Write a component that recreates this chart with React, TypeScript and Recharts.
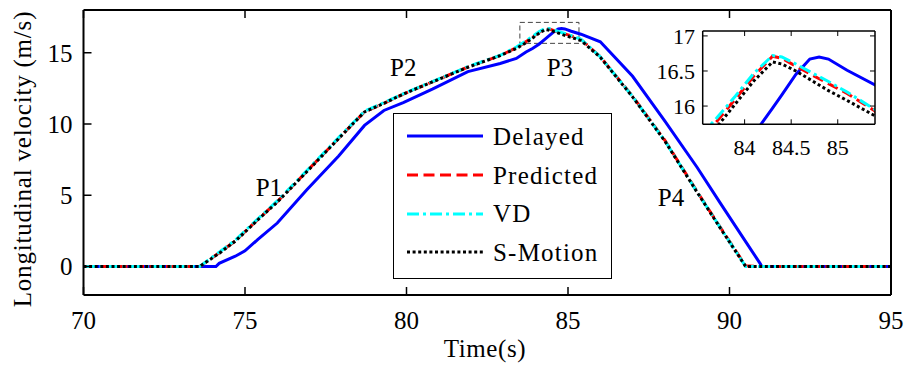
import React from 'react';
import {
  LineChart,
  Line,
  XAxis,
  YAxis,
  ReferenceArea,
  ReferenceDot,
  Legend,
  CartesianGrid,
  Label,
} from 'recharts';

// ---- data ----
const time = [70, 73.6, 74.1, 74.2, 74.7, 75, 75.4, 76, 76.9, 77.9, 78.7, 79.3, 79.9, 80.8, 81.9, 82.9, 83.4, 83.7, 83.9, 84.1, 84.3, 84.4, 84.55, 84.7, 84.8, 84.9, 85.1, 85.4, 86, 87, 88, 89, 89.7, 90.5, 90.95, 91, 95];
const delayed = [0, 0, 0, 0.22, 0.72, 1.1, 1.9, 3.05, 5.35, 7.75, 9.9, 10.95, 11.5, 12.45, 13.68, 14.25, 14.6, 15.05, 15.3, 15.6, 15.97, 16.16, 16.45, 16.67, 16.7, 16.67, 16.51, 16.3, 15.77, 13.35, 10.2, 6.95, 4.5, 1.75, 0.2, 0, 0];
const predicted = [0, 0, 0.8, 0.95, 1.8, 2.45, 3.3, 4.55, 6.65, 9.0, 10.85, 11.45, 12.1, 12.95, 14.0, 14.8, 15.35, 15.78, 16.1, 16.43, 16.71, 16.68, 16.57, 16.46, 16.39, 16.32, 16.18, 15.93, 14.72, 11.95, 8.85, 5.25, 2.8, 0.05, 0, 0, 0];
const vd = [0, 0, 0.85, 1.0, 1.85, 2.5, 3.35, 4.6, 6.7, 9.05, 10.9, 11.5, 12.12, 12.98, 14.02, 14.82, 15.4, 15.83, 16.14, 16.47, 16.72, 16.7, 16.6, 16.49, 16.42, 16.35, 16.2, 15.95, 14.72, 11.93, 8.82, 5.22, 2.78, 0, 0, 0, 0];
const sMotion = [0, 0, 0.78, 0.92, 1.78, 2.42, 3.28, 4.52, 6.62, 8.98, 10.85, 11.45, 12.1, 12.95, 13.98, 14.8, 15.3, 15.7, 16.03, 16.36, 16.63, 16.6, 16.5, 16.38, 16.3, 16.22, 16.08, 15.86, 14.68, 11.9, 8.8, 5.2, 2.75, 0, 0, 0, 0];

const seriesNames = ['Delayed', 'Predicted', 'VD', 'S-Motion'];
const xTicks = [70, 75, 80, 85, 90, 95];
const yTicks = [0, 5, 10, 15];
const insetXTicks = [84, 84.5, 85];
const insetYTicks = [16, 16.5, 17];
const annotationLabels = ['P1', 'P2', 'P3', 'P4'];
const annotationT = [75.74, 79.9, 84.75, 88.19];
const annotationV = [5.59, 14.0, 14.0, 4.88];
const zoomBoxT = [83.51, 85.34];
const zoomBoxV = [15.66, 17.13];

const data = time.map((t, i) => ({
  t,
  delayed: delayed[i],
  predicted: predicted[i],
  vd: vd[i],
  sMotion: sMotion[i],
}));

// ---- styles ----
const FONT = '"Liberation Serif", "Times New Roman", serif';
const seriesStyles = [
  { key: 'delayed', stroke: '#0000ff', dash: undefined as string | undefined },
  { key: 'predicted', stroke: '#ff0000', dash: '11 5.5' },
  { key: 'vd', stroke: '#00ffff', dash: '12 4 3 4' },
  { key: 'sMotion', stroke: '#000000', dash: '3 2.6' },
];

const LegendBox = () => (
  <div
    style={{
      width: 219,
      height: 166,
      border: '1.5px solid #000',
      background: '#fff',
      boxSizing: 'border-box',
      paddingTop: 3,
    }}
  >
    {seriesStyles.map((s, i) => (
      <div key={s.key} style={{ height: 38.7, display: 'flex', alignItems: 'center' }}>
        <svg width={90} height={10} style={{ display: 'block' }}>
          <line x1={13} x2={89} y1={5} y2={5} stroke={s.stroke} strokeWidth={3} strokeDasharray={s.dash} />
        </svg>
        <span style={{ marginLeft: 9, fontFamily: FONT, fontSize: 25, letterSpacing: 1.2, lineHeight: 1, color: '#000' }}>
          {seriesNames[i]}
        </span>
      </div>
    ))}
  </div>
);

const axisLine = { stroke: '#000', strokeWidth: 2 };
const tickLine = { stroke: '#000', strokeWidth: 1.5 };
const insetAxisLine = { stroke: '#000', strokeWidth: 1.5 };
const insetTickLine = { stroke: '#000', strokeWidth: 1 };
const emptyTick = () => <g />;

export default function App() {
  return (
    <div style={{ position: 'absolute', left: 0, top: 0, width: 906, height: 367, background: '#fff' }}>
      <LineChart width={906} height={367} data={data} margin={{ top: 8, right: 13, left: 13, bottom: 32 }}>
        <XAxis
          dataKey="t"
          type="number"
          domain={[70, 95]}
          ticks={xTicks}
          interval={0}
          height={40}
          axisLine={axisLine}
          tickLine={tickLine}
          tickSize={-8}
          tickMargin={24}
          tick={{ fontSize: 25, fontFamily: FONT, fill: '#000' }}
        >
          <Label
            content={() => (
              <text x={485} y={357} textAnchor="middle" fontFamily={FONT} fontSize={25} letterSpacing={0.6} fill="#000">
                Time(s)
              </text>
            )}
          />
        </XAxis>
        <XAxis
          xAxisId="top"
          orientation="top"
          dataKey="t"
          type="number"
          domain={[70, 95]}
          ticks={xTicks}
          interval={0}
          height={2}
          axisLine={axisLine}
          tickLine={tickLine}
          tickSize={-8}
          tick={emptyTick}
        />
        <YAxis
          type="number"
          domain={[-2, 18]}
          ticks={yTicks}
          interval={0}
          width={70.5}
          axisLine={axisLine}
          tickLine={tickLine}
          tickSize={-8}
          tickMargin={19}
          tick={{ fontSize: 25, fontFamily: FONT, fill: '#000' }}
        >
          <Label
            content={() => (
              <text
                x={22}
                y={159}
                transform="rotate(-90 22 159)"
                textAnchor="middle"
                dominantBaseline="central"
                fontFamily={FONT}
                fontSize={25}
                letterSpacing={0.8}
                fill="#000"
              >
                Longitudinal velocity (m/s)
              </text>
            )}
          />
        </YAxis>
        <YAxis
          yAxisId="right"
          orientation="right"
          type="number"
          domain={[-2, 18]}
          ticks={yTicks}
          interval={0}
          width={2}
          axisLine={axisLine}
          tickLine={tickLine}
          tickSize={-8}
          tick={emptyTick}
        />
        <ReferenceArea
          x1={zoomBoxT[0]}
          x2={zoomBoxT[1]}
          y1={zoomBoxV[0]}
          y2={zoomBoxV[1]}
          fill="none"
          fillOpacity={0}
          stroke="#444"
          strokeWidth={1}
          strokeDasharray="5 3"
        />
        {seriesStyles.map((s) => (
          <Line
            key={s.key}
            dataKey={s.key}
            type="linear"
            stroke={s.stroke}
            strokeWidth={3}
            strokeDasharray={s.dash}
            dot={false}
            activeDot={false}
            isAnimationActive={false}
          />
        ))}
        {annotationLabels.map((lab, i) => (
          <ReferenceDot
            key={lab}
            x={annotationT[i]}
            y={annotationV[i]}
            r={0}
            fill="none"
            stroke="none"
            label={{ value: lab, position: 'center', fontSize: 25, fontFamily: FONT, fill: '#000' }}
          />
        ))}
        <Legend
          layout="vertical"
          align="center"
          verticalAlign="middle"
          content={() => <LegendBox />}
          wrapperStyle={{ position: 'absolute', left: 393, top: 113, width: 219, height: 166 }}
        />
      </LineChart>

      <div style={{ position: 'absolute', left: 640, top: 20 }}>
        <LineChart width={250} height={150} data={data} margin={{ top: 9, right: 13, left: 20.7, bottom: 15.7 }}>
          <CartesianGrid fill="#fff" stroke="none" vertical={false} horizontal={false} />
          <XAxis
            dataKey="t"
            type="number"
            domain={[83.55, 85.4]}
            allowDataOverflow
            ticks={insetXTicks}
            interval={0}
            height={30}
            axisLine={insetAxisLine}
            tickLine={insetTickLine}
            tickSize={-5}
            tickMargin={20}
            tick={{ fontSize: 22, fontFamily: FONT, fill: '#000' }}
          />
          <XAxis
            xAxisId="top"
            orientation="top"
            dataKey="t"
            type="number"
            domain={[83.55, 85.4]}
            allowDataOverflow
            ticks={insetXTicks}
            interval={0}
            height={2}
            axisLine={insetAxisLine}
            tickLine={insetTickLine}
            tickSize={-5}
            tick={emptyTick}
          />
          <YAxis
            type="number"
            domain={[15.74, 17.07]}
            allowDataOverflow
            ticks={insetYTicks}
            interval={0}
            width={42}
            axisLine={insetAxisLine}
            tickLine={insetTickLine}
            tickSize={-5}
            tickMargin={12.7}
            tick={{ fontSize: 22, fontFamily: FONT, fill: '#000' }}
          />
          <YAxis
            yAxisId="right"
            orientation="right"
            type="number"
            domain={[15.74, 17.07]}
            allowDataOverflow
            ticks={insetYTicks}
            interval={0}
            width={2}
            axisLine={insetAxisLine}
            tickLine={insetTickLine}
            tickSize={-5}
            tick={emptyTick}
          />
          {seriesStyles.map((s) => (
            <Line
              key={s.key}
              dataKey={s.key}
              type="linear"
              stroke={s.stroke}
              strokeWidth={3}
              strokeDasharray={s.dash}
              dot={false}
              activeDot={false}
              isAnimationActive={false}
            />
          ))}
        </LineChart>
      </div>
    </div>
  );
}
